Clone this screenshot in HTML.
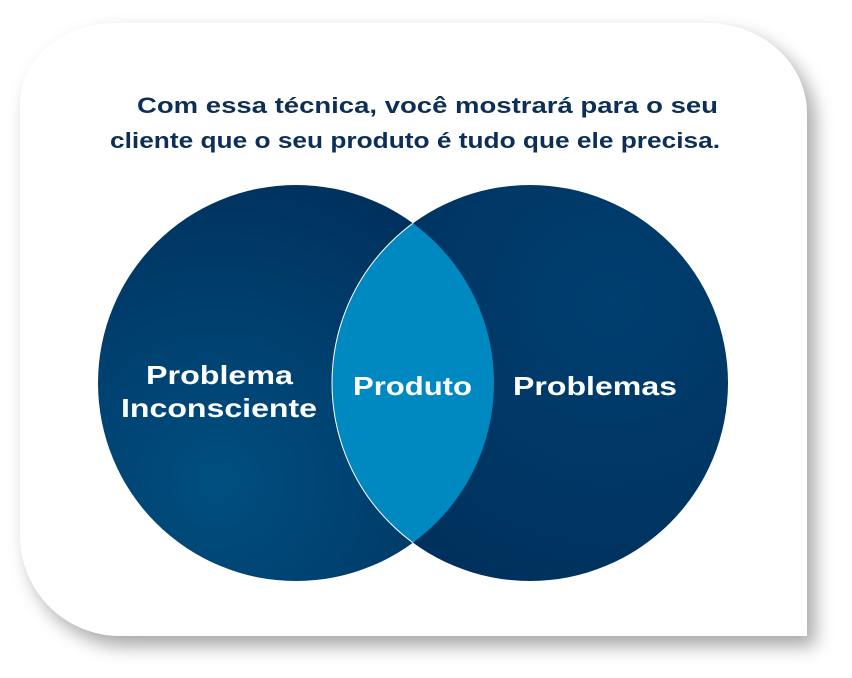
<!DOCTYPE html>
<html><head><meta charset="utf-8"><style>
html,body{margin:0;padding:0;background:#fff;width:852px;height:678px;overflow:hidden}
.card{position:absolute;left:20px;top:23px;width:787px;height:613px;background:#fff;
border-radius:95px 100px 0 100px / 80px 90px 0 100px;box-shadow:8px 10px 18px rgba(0,0,0,0.35)}
svg{position:absolute;left:0;top:0}
</style></head><body>
<div class="card"></div>
<svg width="852" height="678" viewBox="0 0 852 678">
<defs>
<radialGradient id="g1" cx="0.3" cy="0.75" r="0.8"><stop offset="0" stop-color="#004f80"/><stop offset="1" stop-color="#00315e"/></radialGradient>
<radialGradient id="g2" cx="0.7" cy="0.3" r="0.8"><stop offset="0" stop-color="#003f70"/><stop offset="1" stop-color="#00305c"/></radialGradient>
<clipPath id="c"><circle cx="296" cy="383" r="198"/></clipPath>
</defs>
<g font-family="Liberation Sans, sans-serif" font-weight="bold" font-size="22" fill="#0d2f55">
<text x="137" y="113" textLength="581" lengthAdjust="spacingAndGlyphs">Com essa técnica, você mostrará para o seu</text>
<text x="110" y="148" textLength="610" lengthAdjust="spacingAndGlyphs">cliente que o seu produto é tudo que ele precisa.</text>
</g>
<circle cx="296" cy="383" r="198" fill="url(#g1)"/>
<circle cx="530" cy="383" r="198" fill="url(#g2)"/>
<circle cx="530" cy="383" r="198" fill="#0089c0" clip-path="url(#c)" stroke="#fff" stroke-width="1"/>
<g font-family="Liberation Sans, sans-serif" font-weight="bold" font-size="26" fill="#fff">
<text x="146" y="384" textLength="147" lengthAdjust="spacingAndGlyphs">Problema</text>
<text x="121" y="417" textLength="196" lengthAdjust="spacingAndGlyphs">Inconsciente</text>
<text x="353" y="395" textLength="119" lengthAdjust="spacingAndGlyphs">Produto</text>
<text x="513" y="395" textLength="164" lengthAdjust="spacingAndGlyphs">Problemas</text>
</g>
</svg>
</body></html>
